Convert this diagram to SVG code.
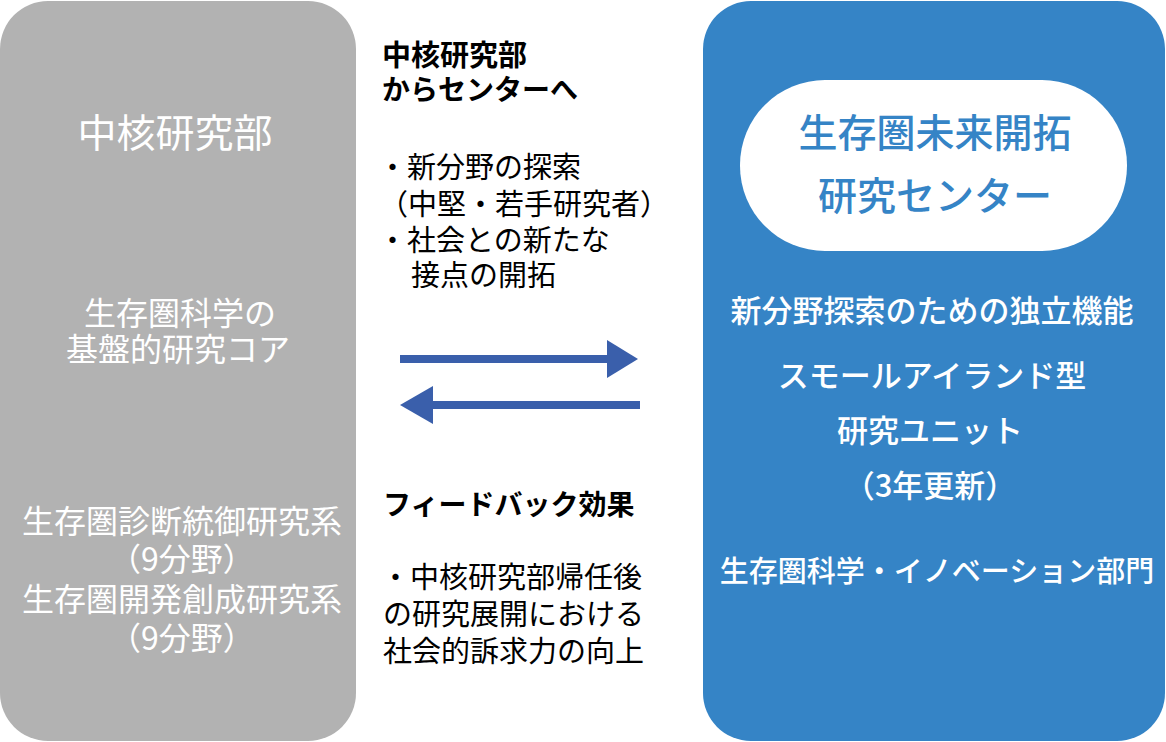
<svg xmlns="http://www.w3.org/2000/svg" width="1166" height="742" viewBox="0 0 1166 742">
<defs>
<style>
text{font-family:"Noto Sans CJK JP","Noto Sans CJK SC",sans-serif;}
.w{fill:#ffffff;}
.k{fill:#000000;}
.c{text-anchor:middle;}
.bl{fill:#3584c6;}
.arrow{fill:none;stroke:#3a5fab;stroke-width:8;}
.head{fill:#3a5fab;}
</style>
</defs>
<rect width="1166" height="742" fill="#ffffff"/>
<g id="core">
<rect x="0" y="1" width="356" height="740" rx="48" ry="48" fill="#b2b2b2"/>
<text class="w c" x="175" y="147" font-size="39">中核研究部</text>
<text class="w c" x="180" y="325" font-size="32">生存圏科学の</text>
<text class="w c" x="178" y="361" font-size="32">基盤的研究コア</text>
<text class="w c" x="182" y="533" font-size="32">生存圏診断統御研究系</text>
<text class="w c" x="182" y="571" font-size="32">（9分野）</text>
<text class="w c" x="182" y="611" font-size="32">生存圏開発創成研究系</text>
<text class="w c" x="182" y="650" font-size="32">（9分野）</text>
</g>
<g id="center">
<rect x="703" y="1" width="462" height="740" rx="48" ry="48" fill="#3584c6"/>
<rect x="740" y="80" width="387" height="171" rx="85" ry="85" fill="#ffffff"/>
<text class="bl c" x="935" y="147" font-size="39" font-weight="500">生存圏未来開拓</text>
<text class="bl c" x="935" y="210" font-size="39" font-weight="500">研究センター</text>
<text class="w c" x="932" y="322" font-size="31" font-weight="500">新分野探索のための独立機能</text>
<text class="w c" x="932" y="387" font-size="31" font-weight="500">スモールアイランド型</text>
<text class="w c" x="930" y="442" font-size="31" font-weight="500">研究ユニット</text>
<text class="w c" x="930" y="497" font-size="31" font-weight="500">（3年更新）</text>
<text class="w c" x="937" y="582" font-size="29" font-weight="500">生存圏科学・イノベーション部門</text>
</g>
<g id="label-to-center">
<text class="k" x="382" y="66" font-size="29" font-weight="bold">中核研究部</text>
<text class="k" x="382" y="100" font-size="28" font-weight="bold">からセンターへ</text>
<text class="k" x="378" y="178" font-size="29">・新分野の探索</text>
<text class="k" x="379" y="215" font-size="29">（中堅・若手研究者）</text>
<text class="k" x="378" y="251" font-size="29">・社会との新たな</text>
<text class="k" x="411" y="286" font-size="29">接点の開拓</text>
</g>
<g id="label-feedback">
<text class="k" x="383" y="515" font-size="28" font-weight="bold">フィードバック効果</text>
<text class="k" x="381" y="588" font-size="29">・中核研究部帰任後</text>
<text class="k" x="383" y="625" font-size="29">の研究展開における</text>
<text class="k" x="383" y="662" font-size="29">社会的訴求力の向上</text>
</g>
<g id="connectors">
<line class="arrow" x1="400" y1="359" x2="610" y2="359"/>
<polygon class="head" points="607,340 638,359 607,378"/>
<line class="arrow" x1="430" y1="405" x2="640" y2="405"/>
<polygon class="head" points="433,386 400,405 433,424"/>
</g>
</svg>
